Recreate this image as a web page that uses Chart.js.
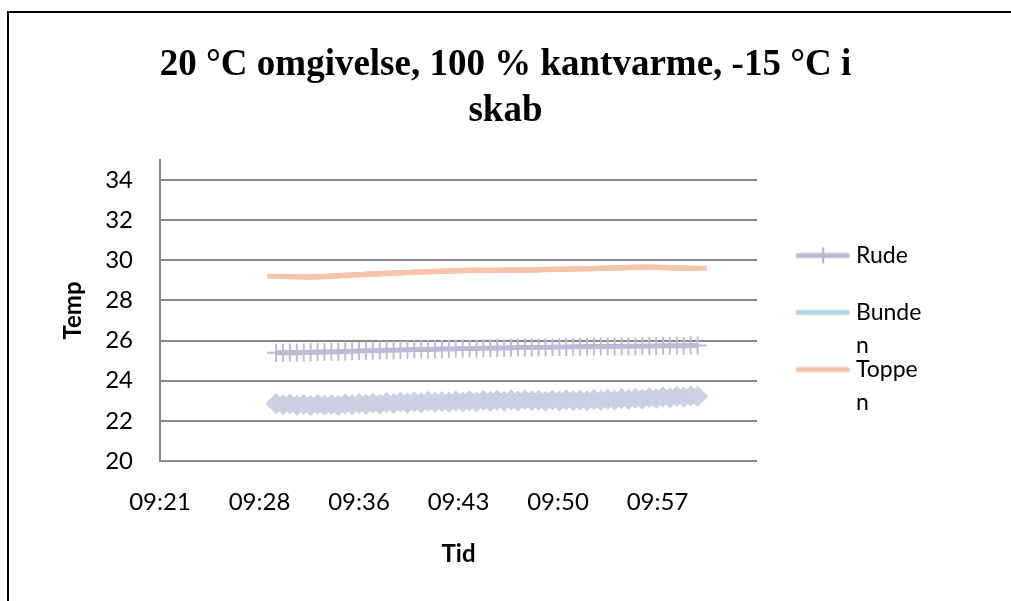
<!DOCTYPE html>
<html>
<head>
<meta charset="utf-8">
<script src="https://cdn.jsdelivr.net/npm/chart.js@4.4.1/dist/chart.umd.min.js"></script>
<style>
  html, body { margin: 0; padding: 0; background: #fff; overflow: hidden; }
  #wrap { position: relative; width: 1011px; height: 601px; overflow: hidden; }
  #chart { position: absolute; left: 0; top: 0; }
  .edge { position: absolute; background: #000; pointer-events: none; }
  #rightCover { position: absolute; left: 996px; top: 0; width: 15px; height: 601px; background: #fff; }
  #edgeTop { left: 7px; top: 11px; width: 1004px; height: 2px; }
  #edgeLeft { left: 7px; top: 11px; width: 2px; height: 590px; }
</style>
</head>
<body>
<div id="wrap">
  <canvas id="chart" width="1011" height="601"></canvas>
  <div id="rightCover"></div>
  <div class="edge" id="edgeTop"></div>
  <div class="edge" id="edgeLeft"></div>
</div>
<script>
// maaletidspunkter (hh:mm:ss)
const times = [
  '09:30:00','09:30:30','09:31:00','09:31:30','09:32:00','09:32:30','09:33:00','09:33:30',
  '09:34:00','09:34:30','09:35:00','09:35:30','09:36:00','09:36:30','09:37:00','09:37:30',
  '09:38:00','09:38:30','09:39:00','09:39:30','09:40:00','09:40:30','09:41:00','09:41:30',
  '09:42:00','09:42:30','09:43:00','09:43:30','09:44:00','09:44:30','09:45:00','09:45:30',
  '09:46:00','09:46:30','09:47:00','09:47:30','09:48:00','09:48:30','09:49:00','09:49:30',
  '09:50:00','09:50:30','09:51:00','09:51:30','09:52:00','09:52:30','09:53:00','09:53:30',
  '09:54:00','09:54:30','09:55:00','09:55:30','09:56:00','09:56:30','09:57:00','09:57:30',
  '09:58:00','09:58:30','09:59:00','09:59:30','10:00:00','10:00:30'
]

const rude = [
  25.40, 25.40, 25.41, 25.40, 25.41, 25.42, 25.42, 25.43, 25.44, 25.45,
  25.46, 25.47, 25.48, 25.49, 25.50, 25.51, 25.52, 25.52, 25.53, 25.54,
  25.55, 25.56, 25.56, 25.57, 25.58, 25.58, 25.59, 25.60, 25.60, 25.61,
  25.62, 25.62, 25.63, 25.63, 25.64, 25.65, 25.65, 25.66, 25.66, 25.67,
  25.67, 25.68, 25.68, 25.69, 25.69, 25.70, 25.70, 25.70, 25.71, 25.71,
  25.72, 25.72, 25.72, 25.73, 25.73, 25.73, 25.74, 25.74, 25.74, 25.74,
  25.75, 25.75
]

const bunden = [
  22.86, 22.80, 22.84, 22.78, 22.82, 22.76, 22.83, 22.78, 22.81, 22.77,
  22.84, 22.80, 22.86, 22.82, 22.88, 22.84, 22.91, 22.86, 22.93, 22.88,
  22.95, 22.90, 22.97, 22.92, 22.96, 22.93, 22.99, 22.94, 23.00, 22.95,
  23.02, 22.97, 23.03, 22.98, 23.04, 22.99, 23.05, 23.00, 23.03, 22.98,
  23.04, 22.99, 23.05, 23.01, 23.04, 23.00, 23.06, 23.02, 23.08, 23.04,
  23.11, 23.07, 23.13, 23.09, 23.16, 23.11, 23.19, 23.15, 23.22, 23.18,
  23.25, 23.23
]

const toppen = [
  29.20, 29.19, 29.19, 29.18, 29.18, 29.17, 29.18, 29.19, 29.21, 29.23,
  29.25, 29.27, 29.29, 29.30, 29.32, 29.33, 29.35, 29.36, 29.38, 29.39,
  29.40, 29.42, 29.43, 29.44, 29.46, 29.47, 29.48, 29.49, 29.50, 29.50,
  29.50, 29.49, 29.50, 29.51, 29.51, 29.52, 29.52, 29.52, 29.53, 29.54,
  29.55, 29.55, 29.56, 29.57, 29.58, 29.58, 29.59, 29.60, 29.61, 29.62,
  29.63, 29.64, 29.65, 29.66, 29.66, 29.65, 29.64, 29.63, 29.62, 29.61,
  29.60, 29.60
]

const seriesNames = ['Rude', 'Bunden', 'Toppen']
// legendeteksten er ombrudt som i originalen
const legendText = [['Rude', ''], ['Bunde', 'n'], ['Toppe', 'n']]
const titleLines = ['20 °C omgivelse, 100 % kantvarme, -15 °C i', 'skab']

// x-akse i minutter efter midnat (09:21:36 .. 10:04:48, trin 7,2 min)
const xMin = 561.6
const xMax = 604.8
const xStep = 7.2
const xTickLabels = ['09:21', '09:28', '09:36', '09:43', '09:50', '09:57', '']
const yMin = 20
const yMax = 35
const yStep = 2

function toMinutes(t) {
    const p = t.split(':').map(Number);
    return p[0] * 60 + p[1] + p[2] / 60;
}

function points(values) {
    return values.map((v, i) => ({ x: toMinutes(times[i]), y: v }));
}

// lille billede til legenden: streg (evt. med lodret markoer)
function legendIcon(color, tick) {
    const c = document.createElement('canvas');
    c.width = 108;
    c.height = 20;
    const g = c.getContext('2d');
    g.strokeStyle = color;
    g.lineWidth = 5;
    g.lineCap = 'round';
    g.beginPath();
    g.moveTo(56, 10);
    g.lineTo(105, 10);
    g.stroke();
    if (tick) {
        g.strokeStyle = tick;
        g.lineWidth = 2;
        g.lineCap = 'butt';
        g.beginPath();
        g.moveTo(81, 2);
        g.lineTo(81, 18);
        g.stroke();
    }
    return c;
}

const legendIcons = [
    legendIcon('#c0b6d2', '#b9aecd'),
    legendIcon('#b0d3de'),
    legendIcon('#f6c4a9')
]

Chart.defaults.font.family = 'Lato, Carlito, Calibri, sans-serif';
Chart.defaults.color = '#000';

const data = {
    datasets: [{
        label: seriesNames[0],
        data: points(rude),
        borderColor: '#c0b6d2',
        borderWidth: 5,
        pointStyle: 'cross',
        pointRadius: 9,
        pointBorderWidth: 2,
        pointBorderColor: '#c3b9d6',
        pointBackgroundColor: '#c3b9d6'
    }, {
        label: seriesNames[1],
        data: points(bunden),
        borderColor: '#aad2dc',
        borderWidth: 5,
        pointStyle: 'rectRot',
        pointRadius: 10,
        pointBorderWidth: 1,
        pointBorderColor: '#c4cde0',
        pointBackgroundColor: '#cad2e3'
    }, {
        label: seriesNames[2],
        data: points(toppen),
        borderColor: '#f6c4a9',
        borderWidth: 5,
        pointStyle: 'line',
        pointRadius: 9,
        pointBorderWidth: 5,
        pointBorderColor: '#f6c4a9'
    }]
};

const config = {
    type: 'line',
    data: data,
    options: {
        responsive: false,
        animation: false,
        layout: { padding: 0 },
        plugins: {
            title: {
                display: true,
                text: titleLines,
                color: '#000',
                font: { family: "'Liberation Serif', 'Times New Roman', serif", size: 37, weight: 'bold', lineHeight: 1.243 },
                padding: { top: 42, bottom: 26 }
            },
            legend: {
                position: 'right', // legenden til hoejre
                align: 'start',
                maxWidth: 254, // legenden fylder resten til hoejre for plottet
                title: { display: true, text: '', font: { size: 10, lineHeight: 1 }, padding: { top: 243, bottom: 0 } },
                labels: {
                    usePointStyle: true,
                    pointStyleWidth: 96.5,
                    padding: -9,
                    color: '#000',
                    font: { size: 23, lineHeight: 33 / 23 },
                    generateLabels: chart => {
                        const items = Chart.defaults.plugins.legend.labels.generateLabels(chart);
                        // mellemrum efter teksten saa boksen bliver bred nok (ingen afklipning)
                        return items.map((it, i) => Object.assign(it, {
                            text: [legendText[i][0] + ' '.repeat(40), legendText[i][1]],
                            pointStyle: legendIcons[i]
                        }));
                    }
                }
            },
            tooltip: { enabled: false }
        },
        scales: {
            x: {
                type: 'linear',
                min: xMin,
                max: xMax,
                grid: { display: false, drawTicks: false },
                border: { display: false },
                ticks: {
                    stepSize: xStep,
                    autoSkip: false,
                    maxRotation: 0,
                    padding: 27,
                    font: { size: 24 },
                    callback: v => xTickLabels[Math.round((v - xMin) / xStep)]
                },
                title: { display: true, text: 'Tid', font: { size: 24, weight: 'bold' }, padding: { top: 0, bottom: 32 } },
                afterFit: s => { s.height = 140; }
            },
            y: {
                min: yMin,
                max: yMax,
                grid: { color: '#878787', lineWidth: 2, drawTicks: false },
                border: { display: true, color: '#878787', width: 2 },
                ticks: { stepSize: yStep, includeBounds: false, padding: 27, font: { size: 24 } },
                title: { display: true, text: 'Temp', font: { size: 24, weight: 'bold' }, padding: { top: 59, bottom: 0 } },
                afterFit: s => { s.width = 160; }
            }
        }
    }
};

const myChart = new Chart(document.getElementById('chart'), config);
</script>
</body>
</html>
